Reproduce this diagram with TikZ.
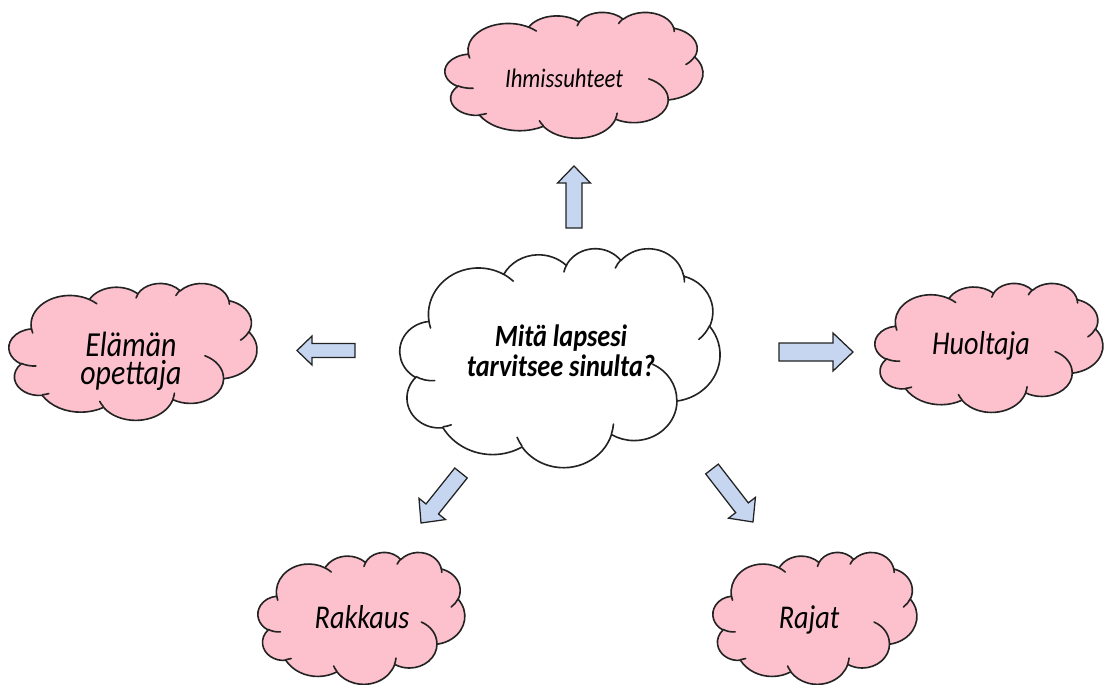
\documentclass[tikz,border=0pt]{standalone}
\usepackage{fontspec}
\setmainfont{Carlito}[FakeStretch=0.85]
\usetikzlibrary{calc}
\definecolor{cloudpink}{RGB}{252,193,205}
\definecolor{arrowblue}{RGB}{198,214,240}
\definecolor{edge}{RGB}{35,35,35}
\newcommand{\twolines}[3]{\vtop{\baselineskip=#3\halign{\hfil##\hfil\cr #1\cr #2\cr}}}
\tikzset{
  cloudline/.style={draw=edge, line width=1.15pt, line join=round, line cap=round},
  txt/.style={anchor=base, inner sep=0pt, text=black},
  blockarrow/.style={draw=edge, fill=arrowblue, line width=0.9pt, line join=miter},
}
\def\px{0.025cm}
% elliptical arc given as in DrawingML: radii, visual start angle, sweep
\newcommand{\ooarc}[4]{arc[/utils/exec={%
  \pgfmathsetmacro\cldA{atan2(#1*sin(#3),#2*cos(#3))}%
  \pgfmathsetmacro\cldB{atan2(#1*sin(#3+#4),#2*cos(#3+#4))}%
  \pgfmathsetmacro\cldD{mod(\cldB-\cldA+720,360)}},
  start angle=\cldA, delta angle=\cldD, x radius=#1, y radius=#2]}
% cloud: name, left, top, width, height, fill
\newcommand{\ppcloud}[6]{%
  \pgfmathsetmacro\cldsx{#4/432*0.025}%
  \pgfmathsetmacro\cldsy{#5/432*0.025}%
  \begin{scope}[shift={(#2,#3)}, x=\cldsx cm, y=-\cldsy cm]
    \coordinate (#1) at (216,216);
    \filldraw[cloudline, fill=#6] (39.00,143.70)
      \ooarc{67.53}{91.90}{-190.4875}{123.7805}
      \ooarc{53.33}{72.67}{-144.1024}{89.9452}
      \ooarc{43.65}{59.45}{-145.8079}{99.7230}
      \ooarc{48.57}{65.95}{-130.9861}{117.2417}
      \ooarc{53.33}{72.73}{-78.7089}{109.0269}
      \ooarc{67.75}{92.20}{-46.2673}{130.2690}
      \ooarc{57.85}{78.67}{0.6250}{114.0333}
      \ooarc{67.52}{92.15}{22.4516}{115.1726}
      \ooarc{77.20}{105.43}{66.2426}{75.7110}
      \ooarc{43.60}{59.18}{-274.9421}{146.7356}
      \ooarc{43.45}{59.45}{-246.8285}{152.5189}
      -- cycle;
    \draw[cloudline]
      (46.93,261.77) \ooarc{43.45}{59.45}{86.7420}{26.4295}
      (69.28,348.99) \ooarc{43.60}{59.18}{73.6105}{11.4475}
      (164.78,390.90) \ooarc{67.52}{92.15}{137.6242}{14.0811}
      (288.27,347.51) \ooarc{67.52}{92.15}{6.4533}{15.9984}
      (341.29,229.54) \ooarc{57.85}{78.67}{-70.2924}{70.9174}
      (417.98,153.54) \ooarc{53.33}{72.73}{30.3180}{27.7515}
      (383.24,54.26) \ooarc{48.57}{65.95}{-13.7443}{14.8589}
      (290.78,39.52) \ooarc{48.57}{65.95}{-149.1815}{18.1954}
      (221.41,47.20) \ooarc{43.65}{59.45}{-163.4943}{17.6864}
      (140.00,51.92) \ooarc{67.53}{91.90}{-66.7070}{12.3194}
      (41.27,157.89) \ooarc{67.53}{91.90}{157.6544}{11.8582};
  \end{scope}}
% #1 tail, #2 tip, #3 head length, #4 shaft half width, #5 head half width (px)
\newcommand{\barrow}[5]{%
  \draw[blockarrow]
    ($(#1)!#4*\px!90:(#2)$) --
    ($($(#2)!#3*\px!(#1)$)!#4*\px!-90:(#1)$) --
    ($($(#2)!#3*\px!(#1)$)!#5*\px!-90:(#1)$) --
    (#2) --
    ($($(#2)!#3*\px!(#1)$)!#5*\px!90:(#1)$) --
    ($($(#2)!#3*\px!(#1)$)!#4*\px!90:(#1)$) --
    ($(#1)!#4*\px!-90:(#2)$) -- cycle;}
\begin{document}
\begin{tikzpicture}[x=0.025cm, y=-0.025cm]
\useasboundingbox (0,0) rectangle (1104,684);
% clouds
\ppcloud{ihm}{445}{12}{258}{126}{cloudpink}
\ppcloud{center}{400}{248}{320}{219}{white}
\ppcloud{elaman}{9}{283}{248}{137}{cloudpink}
\ppcloud{huoltaja}{875}{283}{228}{129}{cloudpink}
\ppcloud{rakkaus}{258}{552}{207}{132}{cloudpink}
\ppcloud{rajat}{713}{552}{204}{132}{cloudpink}
% texts
\node[txt, font=\fontsize{19}{23}\selectfont\itshape] (tihm) at (564,87) {Ihmissuhteet};
\node[txt, font=\fontsize{22}{24}\selectfont\bfseries\itshape] (tcenter) at (561,346) {\twolines{Mitä lapsesi}{tarvitsee sinulta?}{21.9pt}};
\node[txt, font=\fontsize{25}{20}\selectfont\itshape] (telaman) at (131,356) {\twolines{Elämän}{opettaja}{20.6pt}};
\node[txt, font=\fontsize{23.6}{26}\selectfont\itshape] (thuoltaja) at (981,354) {Huoltaja};
\node[txt, font=\fontsize{23.6}{26}\selectfont\itshape] (trakkaus) at (362,628) {Rakkaus};
\node[txt, font=\fontsize{23.6}{26}\selectfont\itshape] (trajat) at (809,628) {Rajat};
% arrows
\coordinate (upT) at (574,228);   \coordinate (upP) at (574,166);
\coordinate (leT) at (355,350.5); \coordinate (leP) at (297,350.5);
\coordinate (riT) at (779,352);   \coordinate (riP) at (853,352);
\coordinate (dlT) at (461,473);   \coordinate (dlP) at (421,523);
\coordinate (drT) at (712,469);   \coordinate (drP) at (753,522);
\barrow{upT}{upP}{17}{8}{16.5}
\barrow{leT}{leP}{15}{7}{14.5}
\barrow{riT}{riP}{20}{9}{19}
\barrow{dlT}{dlP}{18}{8}{17}
\barrow{drT}{drP}{18}{8}{17}
\end{tikzpicture}
\end{document}
